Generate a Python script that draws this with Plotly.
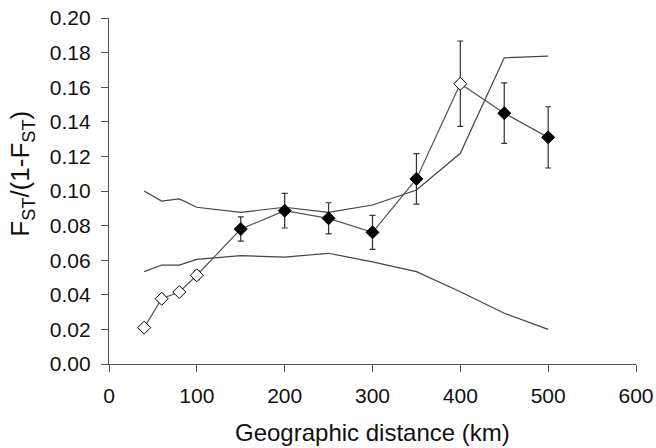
import plotly.graph_objects as go

dist = [40, 60, 80, 100, 150, 200, 250, 300, 350, 400, 450, 500]
fst = [0.021, 0.0377, 0.0416, 0.0513, 0.078, 0.0886, 0.0842, 0.0761, 0.107, 0.162, 0.145, 0.131]
err = [0.002, 0.002, 0.002, 0.0025, 0.007, 0.010, 0.009, 0.0098, 0.0146, 0.0247, 0.0175, 0.0177]
open_pt = [True, True, True, True, False, False, False, False, False, True, False, False]
upper = [0.100, 0.0942, 0.0954, 0.0906, 0.0877, 0.0906, 0.0877, 0.0919, 0.1006, 0.1218, 0.177, 0.178]
lower = [0.0534, 0.0572, 0.0572, 0.0605, 0.0626, 0.0618, 0.064, 0.059, 0.0534, 0.0418, 0.0293, 0.020]
x_title = "Geographic distance (km)"
y_title = "F<sub>ST</sub>/(1-F<sub>ST</sub>)"

fig = go.Figure()
fig.add_trace(go.Scatter(x=dist, y=upper, mode="lines", line=dict(color="#444", width=1.2),
                         showlegend=False, hoverinfo="skip"))
fig.add_trace(go.Scatter(x=dist, y=lower, mode="lines", line=dict(color="#444", width=1.2),
                         showlegend=False, hoverinfo="skip"))
fig.add_trace(go.Scatter(
    x=dist, y=fst, mode="lines+markers",
    line=dict(color="#555", width=1.2),
    marker=dict(symbol="diamond", size=10,
                color=["white" if o else "black" for o in open_pt],
                line=dict(color="black", width=1)),
    error_y=dict(type="data", array=err, visible=True, color="#333", thickness=1.2, width=3),
    showlegend=False, hoverinfo="skip"))

font = "Liberation Sans, Arial, sans-serif"
fig.update_layout(
    width=656, height=448, autosize=False,
    margin=dict(l=109, r=20, t=18, b=84),
    paper_bgcolor="white", plot_bgcolor="white",
    font=dict(family=font, size=21, color="#111"),
    hovermode=False,
    xaxis=dict(range=[0, 600], tickvals=[0, 100, 200, 300, 400, 500, 600],
               showline=True, linecolor="#555", linewidth=1.2, ticks="outside", ticklen=7,
               tickcolor="#555", showgrid=False, zeroline=False, automargin=False,
               tickfont=dict(size=21, color="#111"), ticklabeloverflow="allow", ticklabelstandoff=6),
    yaxis=dict(range=[0, 0.2], tickvals=[i * 0.02 for i in range(11)], tickformat=".2f",
               showline=True, linecolor="#555", linewidth=1.2, ticks="outside", ticklen=7,
               tickcolor="#555", showgrid=False, zeroline=False, automargin=False,
               tickfont=dict(size=21, color="#111"), ticklabeloverflow="allow", ticklabelstandoff=6),
    annotations=[
        dict(text=x_title, xref="paper", yref="paper", x=0.5, y=-0.198,
             xanchor="center", yanchor="middle", showarrow=False,
             font=dict(size=24, color="#111")),
        dict(text=y_title, xref="paper", yref="paper", x=-0.165, y=0.55, textangle=-90,
             xanchor="center", yanchor="middle", showarrow=False,
             font=dict(size=26, color="#111")),
    ],
)
fig.write_html("out.html", config={"displayModeBar": False},
               post_script="document.body.style.margin='0px';document.body.style.overflow='hidden';")
